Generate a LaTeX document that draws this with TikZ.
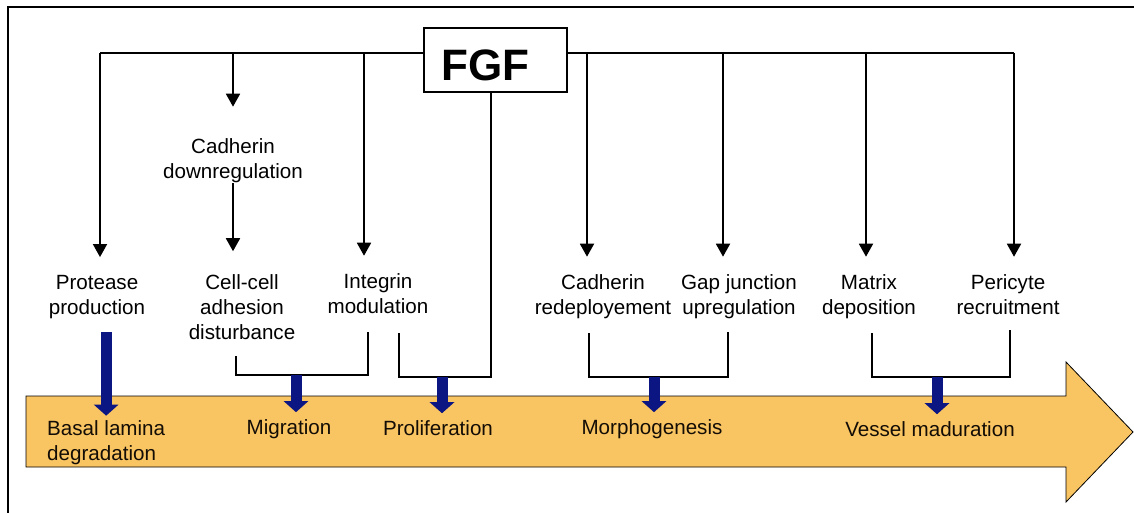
\documentclass[tikz,border=0pt]{standalone}
\usepackage{fontspec}
\setmainfont{Liberation Sans}
\usepackage{tikz}
\usetikzlibrary{arrows.meta,calc,positioning}
\definecolor{bandorange}{HTML}{F9C462}
\definecolor{stepblue}{HTML}{0B1682}

\begin{document}
\begin{tikzpicture}[
    x=1pt, y=-1pt,
    lbl/.style={align=center, inner sep=0pt, font=\fontsize{20.6}{25}\selectfont},
    botlbl/.style={lbl, text=black!90!brown},
    bus/.style={line width=1.8pt},
    fgfarrow/.style={bus, -{Triangle[length=13pt,width=14pt]}},
    brace/.style={line width=1.3pt},
    bigarrow/.style={draw=stepblue, line width=11pt, -{Triangle[length=11pt,width=24pt]}},
    fgfbox/.style={draw, line width=1.5pt, fill=white, minimum width=143pt, minimum height=64pt}
]
\useasboundingbox (0,0) rectangle (1134,513);
\draw[line width=1.5pt] (8,513) -- (8,7) -- (1134,7);

% timeline band
\filldraw[fill=bandorange, draw=black, line width=0.8pt]
    (26,396) -- (1066,396) -- (1066,362) -- (1133,432) -- (1066,502) -- (1066,467) -- (26,467) -- cycle;

\node[lbl] (caddown) at (233,161) {Cadherin\\downregulation};
\node[lbl] (prot) at (97,297) {Protease\\production};
\node[lbl] (cellcell) at (242,307) {Cell-cell\\adhesion\\disturbance};
\node[lbl] (integ) at (378,294) {Integrin\\modulation};
\node[lbl] (cadredep) at (603,297) {Cadherin\\redeployement};
\node[lbl] (gap) at (739,297) {Gap junction\\upregulation};
\node[lbl] (matrix) at (869,297) {Matrix\\deposition};
\node[lbl] (peri) at (1008,295) {Pericyte\\recruitment};

\node[botlbl, align=left, anchor=west] (basal) at (47,443) {Basal lamina\\degradation};
\node[botlbl] (migr) at (289,429) {Migration};
\node[botlbl] (prolif) at (438,428) {Proliferation};
\node[botlbl] (morph) at (652,429) {Morphogenesis};
\node[botlbl] (vessel) at (930,429) {Vessel maduration};

\coordinate (b1) at (100,53);
\coordinate (b2) at (233,53);
\coordinate (b3) at (364,53);
\coordinate (b4) at (587,53);
\coordinate (b5) at (723,53);
\coordinate (b6) at (866,53);
\coordinate (b7) at (1014,53);
\draw[bus] (b1) -- (b7);
\node[fgfbox, label={[font=\fontsize{44}{44}\selectfont\bfseries, xshift=-10pt, yshift=-5pt]center:FGF}] (fgf) at (495.5,60) {};

\draw[fgfarrow, shorten >=32pt] (b2) -- (caddown.north);
\draw[fgfarrow, shorten >=23pt] (caddown.south) -- (caddown.south |- cellcell.north);
\draw[fgfarrow, shorten >=18pt] (b1) -- (b1 |- prot.north);
\draw[fgfarrow, shorten >=18pt] (b3) -- (b3 |- integ.north);
\draw[fgfarrow, shorten >=18pt] (b4) -- (b4 |- cadredep.north);
\draw[fgfarrow, shorten >=18pt] (b5) -- (b5 |- gap.north);
\draw[fgfarrow, shorten >=18pt] (b6) -- (b6 |- matrix.north);
\draw[fgfarrow, shorten >=18pt] (b7) -- (b7 |- peri.north);

\coordinate (jmig) at (296,375);
\coordinate (jpro) at (442,377);
\coordinate (jmor) at (654,377);
\coordinate (jves) at (937,377);
\draw[brace] (236,356) |- (jmig) -| (368,332);
\draw[brace] ([xshift=-4.5pt]fgf.south) |- (jpro) -| (399,333);
\draw[brace] (589,333) |- (jmor) -| (728,332);
\draw[brace] (872,333) |- (jves) -| (1010,330);

\draw[bigarrow, shorten <=13pt, shorten >=5pt] (basal.north |- prot.south) -- (basal.north);
\draw[bigarrow, shorten >=7pt] (jmig) -- (jmig |- migr.north);
\draw[bigarrow, shorten >=7pt] (jpro) -- (jpro |- prolif.north);
\draw[bigarrow, shorten >=7pt] (jmor) -- (jmor |- morph.north);
\draw[bigarrow, shorten >=7pt] (jves) -- (jves |- vessel.north);
\end{tikzpicture}
\end{document}
